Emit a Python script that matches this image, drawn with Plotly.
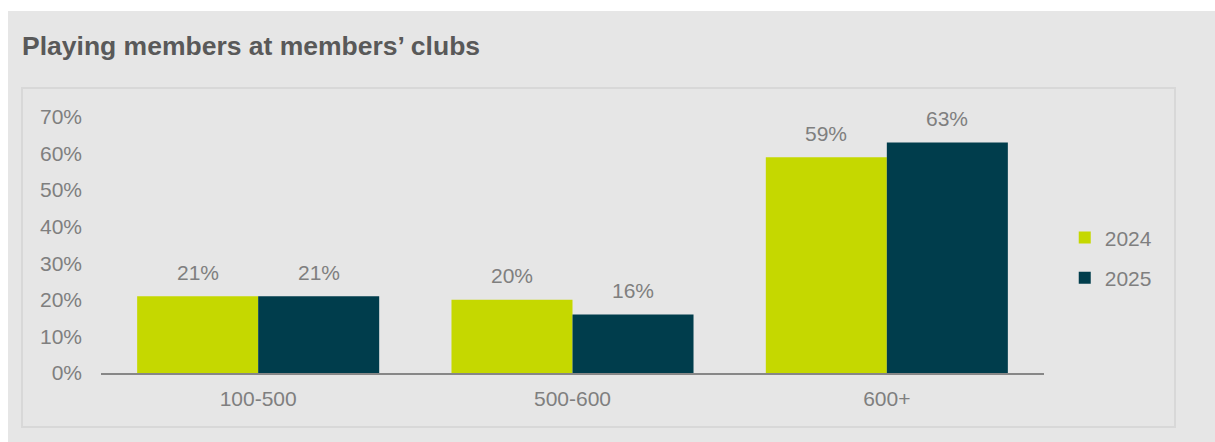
import plotly.graph_objects as go

categories = ["100-500", "500-600", "600+"]
series_names = ["2024", "2025"]
values_2024 = [0.21, 0.20, 0.59]
values_2025 = [0.21, 0.16, 0.63]
y_ticks = [0, 0.1, 0.2, 0.3, 0.4, 0.5, 0.6, 0.7]
y_tick_labels = ["0%", "10%", "20%", "30%", "40%", "50%", "60%", "70%"]
title_text = "Playing members at members’ clubs"

colors = ["#c5d800", "#003d4c"]
text_gray = "#7f7f7f"
bg_gray = "#e6e6e6"
FONT = "Arial, Liberation Sans, sans-serif"

W, H = 1215, 442
ML, MR, MT, MB = 101, 171, 117, 69
pw = W - ML - MR
ph = H - MT - MB

def px_x(p):
    return (p - ML) / pw

def px_y(p):
    return (H - MB - p) / ph

fig = go.Figure()
for name, vals, col in zip(series_names, [values_2024, values_2025], colors):
    fig.add_trace(go.Bar(
        x=categories, y=vals, name=name, marker=dict(color=col, line=dict(width=0)),
        legendgroup=name, hoverinfo="skip",
    ))

bargap = 0.23
cat_w = pw / len(categories)
bar_w = cat_w * (1 - bargap) / 2
annotations = []
for i, vals in enumerate([values_2024, values_2025]):
    shift = (i - 0.5) * bar_w
    for c, v in zip(categories, vals):
        annotations.append(dict(
            x=c, y=v, xref="x", yref="y", text=f"{round(v*100)}%", showarrow=False,
            xshift=shift, yshift=24, yanchor="middle", xanchor="center",
            font=dict(family=FONT, size=21, color=text_gray),
        ))

shapes = [
    dict(type="rect", xref="paper", yref="paper", layer="below",
         x0=px_x(8), x1=px_x(W + 5), y0=px_y(H + 5), y1=px_y(11),
         fillcolor=bg_gray, line=dict(width=0)),
    dict(type="rect", xref="paper", yref="paper", layer="below",
         x0=px_x(22), x1=px_x(1175), y0=px_y(427), y1=px_y(88),
         fillcolor=bg_gray, line=dict(color="#d8d8d8", width=2)),
]

fig.update_layout(
    width=W, height=H,
    margin=dict(l=ML, r=MR, t=MT, b=MB, pad=0),
    paper_bgcolor="white", plot_bgcolor="rgba(0,0,0,0)",
    barmode="group", bargap=bargap, bargroupgap=0,
    font=dict(family=FONT, size=21, color=text_gray),
    title=dict(text=f"<b>{title_text}</b>", xref="container", yref="container",
               x=22 / W, xanchor="left", y=1 - 46 / H, yanchor="middle",
               font=dict(family=FONT, size=26.5, color="#595959")),
    xaxis=dict(showgrid=False, zeroline=False, showline=True, linecolor="#878787",
               linewidth=1.5, ticks="", ticklabelstandoff=6,
               tickfont=dict(family=FONT, size=21, color=text_gray), fixedrange=True),
    yaxis=dict(range=[0, 0.7], tickvals=y_ticks, ticktext=y_tick_labels,
               showgrid=False, zeroline=False, showline=False, ticks="",
               ticklabelstandoff=18,
               tickfont=dict(family=FONT, size=21, color=text_gray), fixedrange=True),
    legend=dict(x=1.022, xanchor="left", y=0.45, yanchor="middle",
                bgcolor="rgba(0,0,0,0)", borderwidth=0, traceorder="grouped",
                tracegroupgap=10, font=dict(family=FONT, size=21, color=text_gray)),
    annotations=annotations,
    shapes=shapes,
    showlegend=True,
)

fig.write_html("out.html", config={"displayModeBar": False})
